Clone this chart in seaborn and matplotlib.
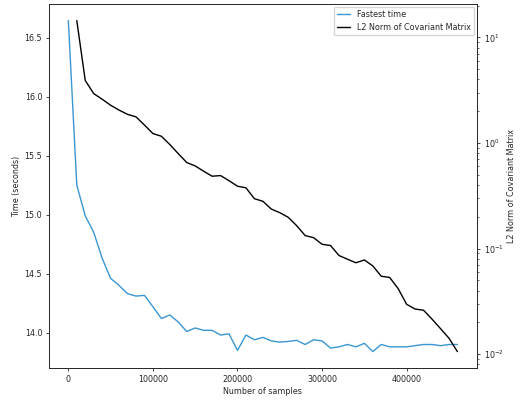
import matplotlib
matplotlib.use("Agg")
import matplotlib.pyplot as plt
import numpy as np
import pandas as pd
import seaborn as sns

samples = list(range(0, 470000, 10000))

fastest_time = [
    16.644, 15.25, 14.99, 14.85, 14.63, 14.46, 14.40, 14.33, 14.31, 14.316,
    14.22, 14.12, 14.15, 14.09, 14.01, 14.04, 14.02, 14.02, 13.98, 13.99,
    13.85, 13.98, 13.94, 13.96, 13.93, 13.92, 13.926, 13.935, 13.90, 13.94,
    13.93, 13.87, 13.88, 13.90, 13.88, 13.91, 13.84, 13.90, 13.88, 13.88,
    13.88, 13.89, 13.90, 13.90, 13.89, 13.90, 13.90,
]

l2_norm = [
    14.45, 3.91, 2.94, 2.60, 2.28, 2.05, 1.87, 1.77, 1.48, 1.23,
    1.16, 0.968, 0.793, 0.654, 0.607, 0.541, 0.485, 0.492, 0.440, 0.390,
    0.377, 0.297, 0.281, 0.237, 0.219, 0.198, 0.165, 0.133, 0.127, 0.110,
    0.107, 0.0861, 0.0794, 0.0735, 0.0781, 0.0686, 0.0548, 0.0533, 0.0418, 0.0297,
    0.0268, 0.0261, 0.0215, 0.0175, 0.0142, 0.0106,
]

time_df = pd.DataFrame({"samples": samples, "time": fastest_time})
norm_df = pd.DataFrame({"samples": samples[1:], "norm": l2_norm})

sns.set_style("ticks")
fs = 5.8
plt.rcParams["font.size"] = fs
plt.rcParams["axes.linewidth"] = 0.6

fig = plt.figure(figsize=(5.2, 4.01), dpi=100)
ax = fig.add_axes([0.094, 0.082, 0.823, 0.908])
ax2 = ax.twinx()

sns.lineplot(data=time_df, x="samples", y="time", ax=ax, color="#3a96d0",
             linewidth=1.0, label="Fastest time", legend=False)
sns.lineplot(data=norm_df, x="samples", y="norm", ax=ax2, color="black",
             linewidth=1.0, label="L2 Norm of Covariant Matrix", legend=False)
ax2.set_yscale("log")

ax.set_xlabel("Number of samples", fontsize=fs, labelpad=2.5)
ax.set_ylabel("Time (seconds)", fontsize=fs, labelpad=2.5)
ax2.set_ylabel("L2 Norm of Covariant Matrix", fontsize=fs, labelpad=2.5)
ax.set_xticks([0, 100000, 200000, 300000, 400000])
ax.set_xticklabels(["0", "100000", "200000", "300000", "400000"])
for a in (ax, ax2):
    a.tick_params(labelsize=fs, width=0.6, length=2.4, pad=2.4)
    a.tick_params(which="minor", width=0.5, length=1.4)

h1, l1 = ax.get_legend_handles_labels()
h2, l2 = ax2.get_legend_handles_labels()
ax2.legend(h1 + h2, l1 + l2, loc="upper right", fontsize=fs, fancybox=True,
           framealpha=0.8, borderaxespad=0.35, handlelength=1.6)

fig.savefig("out.png", dpi=100)
